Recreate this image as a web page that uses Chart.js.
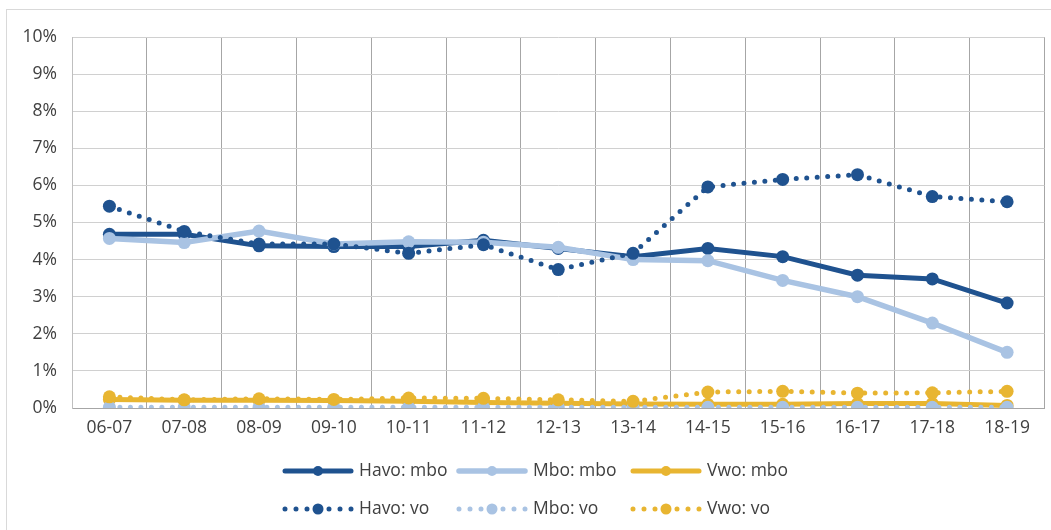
<!DOCTYPE html>
<html>
<head>
<meta charset="utf-8">
<script src="https://cdn.jsdelivr.net/npm/chart.js@4"></script>
<style>
  html, body { margin: 0; padding: 0; background: #fff; }
  #wrap { width: 1051px; height: 530px; position: relative; }
</style>
</head>
<body>
<div id="wrap"><canvas id="c"></canvas></div>
<script>
const categories = ['06-07','07-08','08-09','09-10','10-11','11-12','12-13','13-14','14-15','15-16','16-17','17-18','18-19'];
const havoMbo = [4.68, 4.68, 4.37, 4.35, 4.35, 4.52, 4.30, 4.08, 4.30, 4.08, 3.58, 3.48, 2.83];
const mboMbo  = [4.57, 4.46, 4.77, 4.42, 4.48, 4.47, 4.33, 4.00, 3.97, 3.44, 3.00, 2.29, 1.50];
const vwoMbo  = [0.23, 0.21, 0.21, 0.20, 0.18, 0.15, 0.13, 0.11, 0.10, 0.10, 0.12, 0.12, 0.07];
const havoVo  = [5.44, 4.76, 4.42, 4.42, 4.17, 4.40, 3.73, 4.17, 5.96, 6.16, 6.29, 5.70, 5.56];
const mboVo   = [0.02, 0.02, 0.02, 0.02, 0.02, 0.02, 0.02, 0.02, 0.02, 0.02, 0.02, 0.02, 0.02];
const vwoVo   = [0.30, 0.22, 0.25, 0.23, 0.27, 0.26, 0.22, 0.18, 0.43, 0.45, 0.40, 0.41, 0.45];
const yTicks = [0,1,2,3,4,5,6,7,8,9,10];

const DARK = '#1f528f', LIGHT = '#a9c3e3', GOLD = '#e8b531';
const FONT = '"Open Sans", "DejaVu Sans", sans-serif';
const TXT = '#404040';

function solid(label, data, color, order, width) {
  return { label, data, borderColor: color, backgroundColor: color, borderWidth: width,
    pointRadius: 6.5, pointHoverRadius: 6.5, pointBackgroundColor: color, pointBorderWidth: 0,
    tension: 0, order, dotted: false };
}
function dotted(label, data, color, order) {
  return { label, data, borderColor: color, backgroundColor: color, borderWidth: 5,
    borderDash: [0, 10.5], borderCapStyle: 'round',
    pointRadius: 6.5, pointHoverRadius: 6.5, pointBackgroundColor: color, pointBorderWidth: 0,
    tension: 0, order, dotted: true };
}

const bgBorder = {
  id: 'bgBorder',
  beforeDraw(chart) {
    const ctx = chart.ctx;
    ctx.save();
    ctx.fillStyle = '#fff';
    ctx.fillRect(0, 0, chart.width, chart.height);
    ctx.strokeStyle = '#d9d9d9';
    ctx.lineWidth = 1;
    ctx.strokeRect(6.5, 9.5, chart.width + 20, chart.height + 20);
    ctx.restore();
  }
};

const customLegend = {
  id: 'customLegend',
  afterDraw(chart) {
    const ctx = chart.ctx;
    const ds = chart.data.datasets;
    ctx.save();
    ctx.font = '17.5px ' + FONT;
    ctx.textBaseline = 'middle';
    const lineW = 70, gapT = 6, colStep = 174;
    const rowsY = [471, 509];
    for (let c = 0; c < 3; c++) {
      const x = 283 + c * colStep;
      [ds[c], ds[c + 3]].forEach((d, r) => {
        const y = rowsY[r];
        ctx.strokeStyle = d.borderColor;
        ctx.lineWidth = d.borderWidth;
        ctx.lineCap = 'round';
        ctx.beginPath();
        if (d.dotted) {
          ctx.setLineDash([0, 11]);
          ctx.moveTo(x + 2, y); ctx.lineTo(x + lineW, y);
        } else {
          ctx.setLineDash([]);
          ctx.moveTo(x + 2, y); ctx.lineTo(x + lineW - 2, y);
        }
        ctx.stroke();
        ctx.setLineDash([]);
        ctx.fillStyle = d.borderColor;
        ctx.beginPath();
        ctx.arc(x + lineW / 2, y, d.dotted ? 5.5 : 5, 0, Math.PI * 2);
        ctx.fill();
        ctx.fillStyle = TXT;
        ctx.fillText(d.label, x + lineW + gapT, y);
      });
    }
    ctx.restore();
  }
};

new Chart(document.getElementById('c'), {
  type: 'line',
  data: {
    labels: categories,
    datasets: [
      solid('Havo: mbo', havoMbo, DARK, 6, 5),
      solid('Mbo: mbo', mboMbo, LIGHT, 5, 5.5),
      solid('Vwo: mbo', vwoMbo, GOLD, 4, 5),
      dotted('Havo: vo', havoVo, DARK, 3),
      dotted('Mbo: vo', mboVo, LIGHT, 2),
      dotted('Vwo: vo', vwoVo, GOLD, 1)
    ]
  },
  options: {
    responsive: true,
    maintainAspectRatio: false,
    animation: false,
    layout: { padding: { top: 37, left: 0, right: 0, bottom: 0 } },
    plugins: { legend: { display: false }, tooltip: { enabled: false } },
    scales: {
      x: {
        offset: true,
        grid: { offset: true, color: '#a6a6a6', lineWidth: 1, drawTicks: false },
        border: { color: '#a6a6a6' },
        ticks: { color: TXT, font: { family: FONT, size: 17.5 }, padding: 10, maxRotation: 0, autoSkip: false },
        afterFit(s) { s.height = 122; }
      },
      y: {
        min: 0, max: 10,
        afterBuildTicks(s) { s.ticks = yTicks.map(v => ({ value: v })); },
        grid: { color: '#d0d0d0', lineWidth: 1, drawTicks: false },
        border: { color: '#bfbfbf' },
        ticks: { color: TXT, font: { family: FONT, size: 17.5 }, padding: 15, callback: v => v + '%' },
        afterFit(s) { s.width = 72; }
      }
    }
  },
  plugins: [bgBorder, customLegend]
});
</script>
</body>
</html>
